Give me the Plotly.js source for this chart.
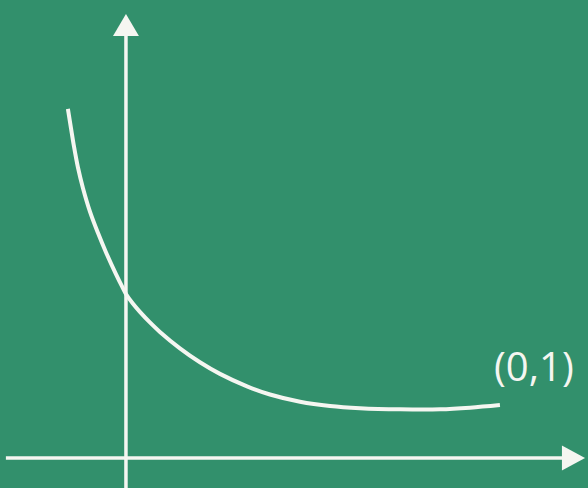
<!DOCTYPE html>
<html>
<head>
<meta charset="utf-8">
<script src="https://cdn.plot.ly/plotly-3.0.1.min.js"></script>
<style>
  html, body { margin: 0; padding: 0; background: #32906c; }
  #chart { width: 588px; height: 488px; }
</style>
</head>
<body>
<div id="chart"></div>
<script>
// Decaying curve sketched on a chalkboard, crossing the vertical axis at 1
const curveX = [-0.354, -0.335, -0.317, -0.293, -0.262, -0.220, -0.171, -0.122, -0.061, -0.024,
                0.0, 0.043, 0.085, 0.146, 0.207, 0.329, 0.451, 0.573, 0.738, 0.878,
                1.061, 1.244, 1.427, 1.671, 1.915, 2.098, 2.280];
const curveY = [2.129, 2.010, 1.900, 1.773, 1.645, 1.504, 1.373, 1.255, 1.121, 1.046,
                1.0, 0.940, 0.891, 0.827, 0.769, 0.669, 0.584, 0.513, 0.437, 0.387,
                0.343, 0.317, 0.304, 0.297, 0.297, 0.307, 0.323];
const pointLabel = '(0,1)';
const labelPos = [2.232, 0.567];

const chalk = '#f5f6f1';
const board = '#32906c';

// Axis extents in data units
const xRange = [-0.768, 2.817];
const yRange = [-0.183, 2.793];
const xAxisStart = -0.732, xAxisEnd = 2.66, xArrowTip = 2.799, xArrowHalf = 0.076;
const yAxisEnd = 2.58, yArrowTip = 2.707, yArrowHalf = 0.079;

const shapes = [
  // horizontal axis
  { type: 'line', x0: xAxisStart, x1: xAxisEnd, y0: 0, y1: 0,
    line: { color: chalk, width: 3.5 } },
  // vertical axis
  { type: 'line', x0: 0, x1: 0, y0: yRange[0] - 0.1, y1: yAxisEnd,
    line: { color: chalk, width: 3.5 } },
  // arrow heads
  { type: 'path',
    path: `M ${xArrowTip} 0 L ${xAxisEnd - 0.002} ${xArrowHalf} L ${xAxisEnd - 0.002} ${-xArrowHalf} Z`,
    fillcolor: chalk, line: { width: 0 } },
  { type: 'path',
    path: `M 0 ${yArrowTip} L ${-yArrowHalf} ${yAxisEnd - 0.007} L ${yArrowHalf} ${yAxisEnd - 0.007} Z`,
    fillcolor: chalk, line: { width: 0 } }
];

const trace = {
  x: curveX, y: curveY, type: 'scatter', mode: 'lines',
  line: { color: chalk, width: 4, shape: 'spline', smoothing: 1 },
  hoverinfo: 'skip'
};

const hidden = { visible: false, showgrid: false, zeroline: false, fixedrange: true };

const layout = {
  width: 588, height: 488,
  margin: { l: 0, r: 0, t: 0, b: 0 },
  paper_bgcolor: board, plot_bgcolor: board,
  showlegend: false,
  xaxis: Object.assign({ range: xRange }, hidden),
  yaxis: Object.assign({ range: yRange }, hidden),
  shapes: shapes,
  annotations: [{
    x: labelPos[0], y: labelPos[1], xref: 'x', yref: 'y',
    text: pointLabel, showarrow: false, xanchor: 'left', yanchor: 'middle',
    font: { family: 'Open Sans, sans-serif', size: 40, color: chalk }
  }]
};

Plotly.newPlot('chart', [trace], layout, { staticPlot: true, displayModeBar: false });
</script>
</body>
</html>
